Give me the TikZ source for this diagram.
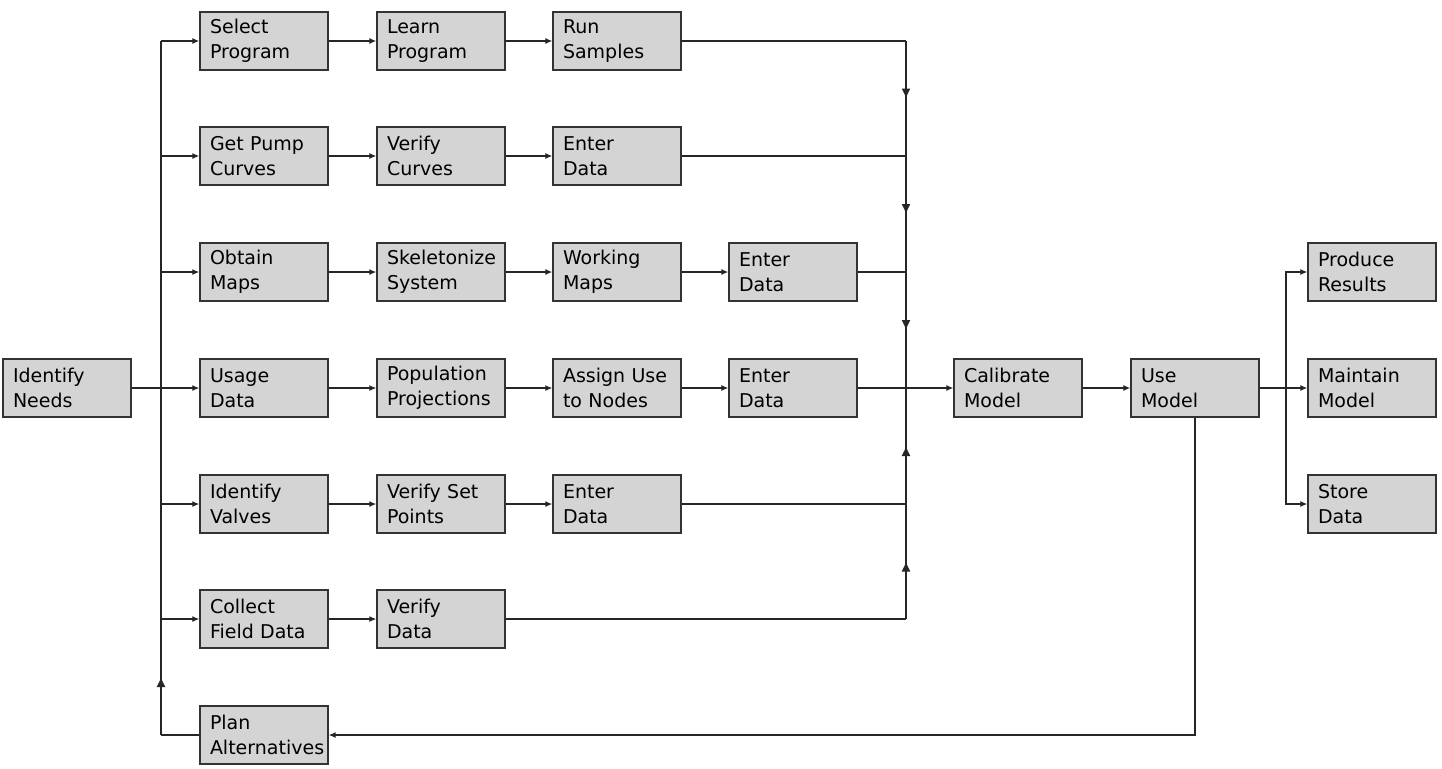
\documentclass[tikz,border=0pt]{standalone}
\usepackage{fontspec}
\setmainfont{DejaVu Sans}
\usetikzlibrary{arrows.meta,decorations.markings}

\tikzset{
  stepbox/.style={draw=black!80, fill=black!17, line width=1.4pt,
    minimum width=128pt, minimum height=58pt, text width=108pt,
    inner xsep=10pt, inner ysep=0pt, align=left,
    font=\fontsize{19}{25}\selectfont},
  link/.style={line width=1.2pt, draw=black!85},
  arr/.style={link, -{Latex[length=7pt,width=6pt]}},
  midarrow/.style={postaction={decorate}, decoration={markings,
    mark=at position #1 with {\arrow{Latex[length=10pt,width=9pt]}}}},
  midarrow/.default=0.5
}

\begin{document}
\begin{tikzpicture}[x=1pt, y=-1pt]
  \useasboundingbox (0,0) rectangle (1442,768);

  % boxes
  \node[stepbox] (ident)   at (67,388)   {Identify\\Needs};
  \node[stepbox] (select)  at (264,41)   {Select\\Program};
  \node[stepbox] (learn)   at (441,41)   {Learn\\Program};
  \node[stepbox] (run)     at (617,41)   {Run\\Samples};
  \node[stepbox] (pump)    at (264,156)  {Get Pump\\Curves};
  \node[stepbox] (vcurve)  at (441,156)  {Verify\\Curves};
  \node[stepbox] (enterb)  at (617,156)  {Enter\\Data};
  \node[stepbox] (maps)    at (264,272)  {Obtain\\Maps};
  \node[stepbox] (skel)    at (441,272)  {Skeletonize\\System};
  \node[stepbox] (wmaps)   at (617,272)  {Working\\Maps};
  \node[stepbox] (enterc)  at (793,272)  {Enter\\Data};
  \node[stepbox] (usage)   at (264,388)  {Usage\\Data};
  \node[stepbox] (popul)   at (441,388)  {Population\\Projections};
  \node[stepbox] (assign)  at (617,388)  {Assign Use\\to Nodes};
  \node[stepbox] (enterd)  at (793,388)  {Enter\\Data};
  \node[stepbox] (valves)  at (264,504)  {Identify\\Valves};
  \node[stepbox] (setpt)   at (441,504)  {Verify Set\\Points};
  \node[stepbox] (entere)  at (617,504)  {Enter\\Data};
  \node[stepbox] (field)   at (264,619)  {Collect\\Field Data};
  \node[stepbox] (vdata)   at (441,619)  {Verify\\Data};
  \node[stepbox] (plan)    at (264,735)  {Plan\\Alternatives};
  \node[stepbox] (calib)   at (1018,388) {Calibrate\\Model};
  \node[stepbox] (use)     at (1195,388) {Use\\Model};
  \node[stepbox] (produce) at (1372,272) {Produce\\Results};
  \node[stepbox] (maint)   at (1372,388) {Maintain\\Model};
  \node[stepbox] (store)   at (1372,504) {Store\\Data};

  % left trunk
  \foreach \n/\y in {0/41,1/156,2/272,3/388,4/504,5/619,6/735}
    \coordinate (t\n) at (161,\y);
  \draw[link] (plan.west) -- (t6);
  \draw[link, midarrow] (t6) -- (t5);
  \draw[link] (t5) -- (t0);
  \draw[link] (ident.east) -- (t3);
  \foreach \n/\b in {0/select,1/pump,2/maps,3/usage,4/valves,5/field}
    \draw[arr] (t\n) -- (\b.west);

  % rows
  \draw[arr] (select) -- (learn);
  \draw[arr] (learn) -- (run);
  \draw[arr] (pump) -- (vcurve);
  \draw[arr] (vcurve) -- (enterb);
  \draw[arr] (maps) -- (skel);
  \draw[arr] (skel) -- (wmaps);
  \draw[arr] (wmaps) -- (enterc);
  \draw[arr] (usage) -- (popul);
  \draw[arr] (popul) -- (assign);
  \draw[arr] (assign) -- (enterd);
  \draw[arr] (valves) -- (setpt);
  \draw[arr] (setpt) -- (entere);
  \draw[arr] (field) -- (vdata);

  % collecting bus
  \foreach \n/\y in {0/41,1/156,2/272,3/388,4/504,5/619}
    \coordinate (b\n) at (906,\y);
  \draw[link] (run.east) -- (b0);
  \draw[link] (enterb.east) -- (b1);
  \draw[link] (enterc.east) -- (b2);
  \draw[link] (entere.east) -- (b4);
  \draw[link] (vdata.east) -- (b5);
  \draw[link, midarrow] (b0) -- (b1);
  \draw[link, midarrow] (b1) -- (b2);
  \draw[link, midarrow] (b2) -- (b3);
  \draw[link, midarrow] (b5) -- (b4);
  \draw[link, midarrow] (b4) -- (b3);
  \draw[arr] (enterd) -- (calib);
  \draw[arr] (calib) -- (use);

  % outputs and feedback
  \coordinate (r) at (1286,388);
  \draw[arr] (use) -- (maint);
  \draw[arr] (r) |- (produce.west);
  \draw[arr] (r) |- (store.west);
  \draw[arr] (use.south) |- (plan.east);
\end{tikzpicture}
\end{document}
